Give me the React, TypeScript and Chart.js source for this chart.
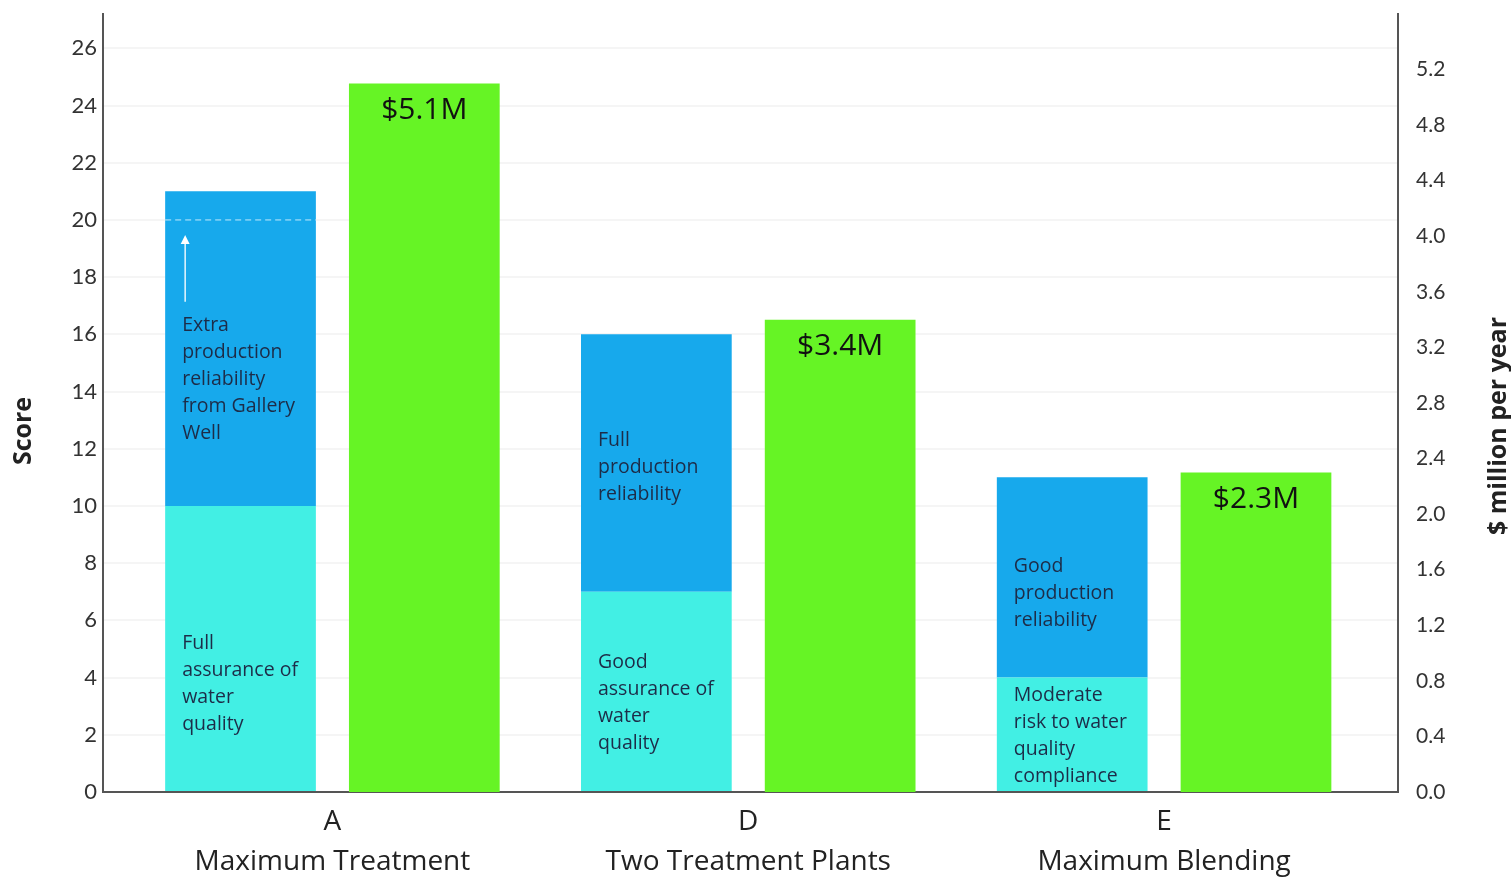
import { useEffect, useRef } from "react";
import { Chart, registerables } from "chart.js";

Chart.register(...registerables);

// ---- data ----
const optionCodes = ["A", "D", "E"];
const optionNames = ["Maximum Treatment", "Two Treatment Plants", "Maximum Blending"];
const waterQualityScores = [10, 7, 4];
const reliabilityScores = [11, 9, 7];
const annualCostMillions = [5.1, 3.4, 2.3];
const waterQualityNotes = [
  "Full\nassurance of\nwater\nquality",
  "Good\nassurance of\nwater\nquality",
  "Moderate\nrisk to water\nquality\ncompliance",
];
const reliabilityNotes = [
  "Extra\nproduction\nreliability\nfrom Gallery\nWell",
  "Full\nproduction\nreliability",
  "Good\nproduction\nreliability",
];
const scoreTicks = [0, 2, 4, 6, 8, 10, 12, 14, 16, 18, 20, 22, 24, 26];
const costTicks = [0, 0.4, 0.8, 1.2, 1.6, 2.0, 2.4, 2.8, 3.2, 3.6, 4.0, 4.4, 4.8, 5.2];
const galleryWellOption = 0;
const galleryWellBaseScore = 20;

// ---- styles ----
const FONT = '"Open Sans", sans-serif';
const TICK_FONT = 'Lato, "Open Sans", sans-serif';
const CYAN = "#42EFE4";
const BLUE = "#17A9EC";
const GREEN = "#66F425";
const NOTE_COLOR = "#1d2c48";
const waterNoteShift = [35, 12, 2];
const reliabilityNoteShift = [31, 4, 16];

const annotatePlugin = {
  id: "annotate",
  afterDatasetsDraw(chart: any) {
    const ctx = chart.ctx as CanvasRenderingContext2D;
    ctx.save();
    const drawNotes = (dsIndex: number, notes: string[], shifts: number[]) => {
      const meta = chart.getDatasetMeta(dsIndex);
      meta.data.forEach((bar: any, i: number) => {
        const { x, y, base, width } = bar.getProps(["x", "y", "base", "width"], true);
        const lines = notes[i].split("\n");
        const lh = 27;
        const left = x - width / 2 + 17;
        const cy = (y + base) / 2 + shifts[i];
        const startY = cy - ((lines.length - 1) * lh) / 2;
        ctx.font = `19.5px ${FONT}`;
        ctx.fillStyle = NOTE_COLOR;
        ctx.textAlign = "left";
        ctx.textBaseline = "middle";
        lines.forEach((ln, k) => ctx.fillText(ln, left, startY + k * lh));
        if (dsIndex === 1 && i === galleryWellOption) {
          const yDash = chart.scales.y.getPixelForValue(galleryWellBaseScore);
          ctx.strokeStyle = "rgba(255,255,255,0.75)";
          ctx.lineWidth = 1;
          ctx.setLineDash([6, 4]);
          ctx.beginPath();
          ctx.moveTo(x - width / 2, yDash);
          ctx.lineTo(x + width / 2, yDash);
          ctx.stroke();
          ctx.setLineDash([]);
          const ax = x - width / 2 + 20;
          const tail = startY - 24;
          const tip = yDash + 15;
          ctx.strokeStyle = "rgba(255,255,255,0.9)";
          ctx.lineWidth = 1.5;
          ctx.beginPath();
          ctx.moveTo(ax, tail);
          ctx.lineTo(ax, tip + 8);
          ctx.stroke();
          ctx.fillStyle = "#ffffff";
          ctx.beginPath();
          ctx.moveTo(ax, tip);
          ctx.lineTo(ax - 4.5, tip + 9);
          ctx.lineTo(ax + 4.5, tip + 9);
          ctx.closePath();
          ctx.fill();
        }
      });
    };
    drawNotes(0, waterQualityNotes, waterNoteShift);
    drawNotes(1, reliabilityNotes, reliabilityNoteShift);

    const costMeta = chart.getDatasetMeta(2);
    costMeta.data.forEach((bar: any, i: number) => {
      const { x, y } = bar.getProps(["x", "y"], true);
      ctx.font = `30px ${FONT}`;
      ctx.fillStyle = "#111";
      ctx.textAlign = "center";
      ctx.textBaseline = "middle";
      ctx.fillText(`$${annualCostMillions[i].toFixed(1)}M`, x, y + 27);
    });

    // axis titles
    const { top, bottom } = chart.chartArea;
    const midY = (top + bottom) / 2;
    ctx.font = `bold 25px ${FONT}`;
    ctx.fillStyle = "#222";
    ctx.textAlign = "center";
    ctx.textBaseline = "middle";
    ctx.save();
    ctx.translate(24, midY + 28);
    ctx.rotate(-Math.PI / 2);
    ctx.fillText("Score", 0, 0);
    ctx.restore();
    ctx.save();
    ctx.translate(chart.width - 12, midY + 23);
    ctx.rotate(-Math.PI / 2);
    ctx.fillText("$ million per year", 0, 0);
    ctx.restore();
    ctx.restore();
  },
};

const noEndPadding = (scale: any) => {
  scale.paddingTop = 0;
  scale.paddingBottom = 0;
};

export default function App() {
  const canvasRef = useRef<HTMLCanvasElement | null>(null);

  useEffect(() => {
    if (!canvasRef.current) return;
    const chart = new Chart(canvasRef.current, {
      type: "bar",
      data: {
        datasets: [
          {
            label: "Water quality",
            data: waterQualityScores.map((v, i) => ({ x: i, y: v })),
            backgroundColor: CYAN,
            stack: "score",
            yAxisID: "y",
          },
          {
            label: "Production reliability",
            data: reliabilityScores.map((v, i) => ({ x: i, y: v })),
            backgroundColor: BLUE,
            stack: "score",
            yAxisID: "y",
          },
          {
            label: "Annual cost",
            data: annualCostMillions.map((v, i) => ({ x: i, y: v })),
            backgroundColor: GREEN,
            stack: "cost",
            yAxisID: "y1",
          },
        ],
      },
      options: {
        animation: false,
        responsive: true,
        maintainAspectRatio: false,
        categoryPercentage: 0.884,
        barPercentage: 0.82,
        layout: { padding: { top: 14, left: 0, right: 0, bottom: 0 } },
        plugins: { legend: { display: false }, tooltip: { enabled: false } },
        scales: {
          x: {
            type: "linear",
            offset: false,
            min: -0.5517,
            max: 2.5625,
            grid: { display: false },
            border: { display: true, color: "#555", width: 2 },
            afterBuildTicks: (scale: any) => {
              scale.ticks = optionCodes.map((_, i) => ({ value: i }));
            },
            afterFit: (scale: any) => {
              scale.height = 87;
              scale.paddingLeft = 0;
              scale.paddingRight = 0;
            },
            ticks: {
              autoSkip: false,
              maxRotation: 0,
              padding: 2,
              color: "#222",
              font: { family: FONT, size: 28, lineHeight: 1.42 },
              callback: (value: any) => [optionCodes[value], optionNames[value]],
            },
          },
          y: {
            type: "linear",
            position: "left",
            min: 0,
            max: 27.2,
            stacked: true,
            afterBuildTicks: (scale: any) => {
              scale.ticks = scoreTicks.map((v) => ({ value: v }));
            },
            afterFit: (scale: any) => {
              scale.width = 103;
              noEndPadding(scale);
            },
            grid: { color: "rgba(0,0,0,0.04)", lineWidth: 2, drawTicks: false },
            border: { display: true, color: "#555", width: 2 },
            ticks: {
              padding: 6,
              color: "#333",
              font: { family: TICK_FONT, size: 22 },
            },
          },
          y1: {
            type: "linear",
            position: "right",
            min: 0,
            max: 5.6,
            afterBuildTicks: (scale: any) => {
              scale.ticks = costTicks.map((v) => ({ value: v }));
            },
            afterFit: (scale: any) => {
              scale.width = 113;
              noEndPadding(scale);
            },
            grid: { display: false, drawTicks: false },
            border: { display: true, color: "#555", width: 2 },
            ticks: {
              padding: 18,
              color: "#333",
              font: { family: TICK_FONT, size: 21 },
              callback: (value: any) => Number(value).toFixed(1),
            },
          },
        },
      },
      plugins: [annotatePlugin],
    } as any);
    return () => chart.destroy();
  }, []);

  return (
    <div style={{ position: "fixed", left: 0, top: 0, width: 1511, height: 879, background: "#fff" }}>
      <canvas ref={canvasRef} />
    </div>
  );
}
